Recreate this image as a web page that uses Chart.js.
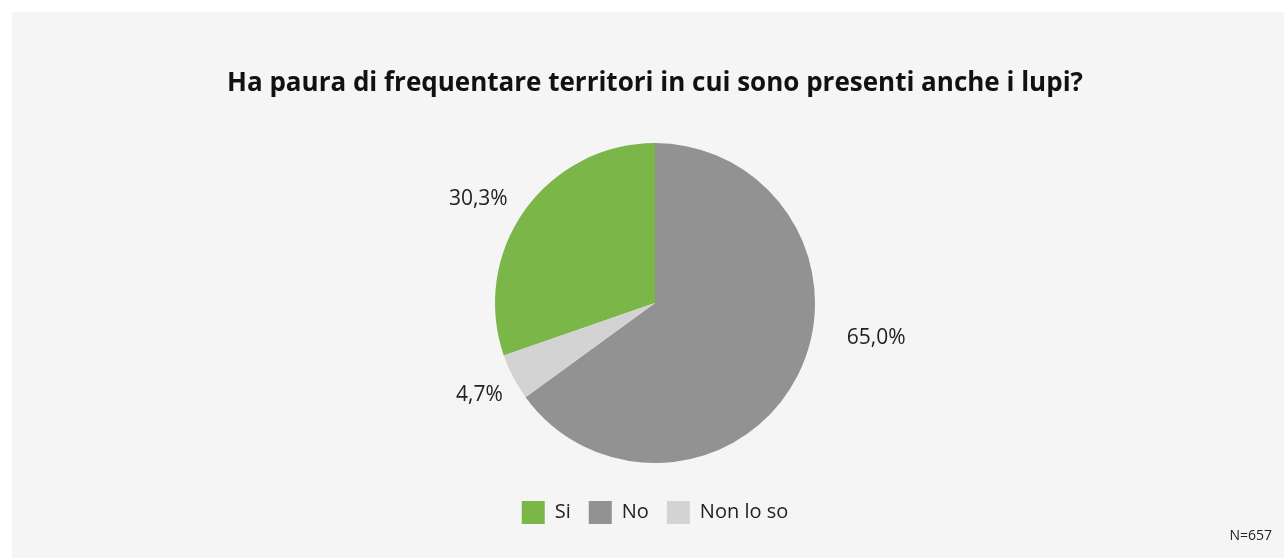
<!DOCTYPE html>
<html>
<head>
<meta charset="utf-8">
<script src="https://cdn.jsdelivr.net/npm/chart.js@4.4.1/dist/chart.umd.min.js"></script>
<style>
  html, body { margin: 0; padding: 0; background: #ffffff; }
  #panel {
    position: absolute; left: 12px; top: 12px;
    width: 1272px; height: 546px; background: #f5f5f5;
  }
</style>
</head>
<body>
<div id="panel"><canvas id="chart" width="1272" height="546"></canvas></div>
<script>
  // data
  const categories = ["Si", "No", "Non lo so"];
  const percentages = [30.3, 65.0, 4.7];
  const colors = ["#7ab648", "#929292", "#d3d3d3"];
  const titleText = "Ha paura di frequentare territori in cui sono presenti anche i lupi?";
  const noteText = "N=657";

  // Si starts where "Non lo so" ends, so "No" begins at 12 o'clock
  const startRotation = (percentages[1] + percentages[2]) / 100 * 360;

  const fmt = v => v.toFixed(1).replace(".", ",") + "%";

  // outside labels: angle shift (deg) and distance beyond the rim
  const labelPlacement = [
    { shift: -5, gap: 45 },
    { shift: -18, gap: 64 },
    { shift: 0, gap: 38 }
  ];

  const pieLabels = {
    id: "pieLabels",
    afterDatasetsDraw(chart) {
      const ctx = chart.ctx;
      const meta = chart.getDatasetMeta(0);
      ctx.save();
      ctx.font = "21px 'Open Sans'";
      ctx.fillStyle = "#222222";
      ctx.textAlign = "center";
      ctx.textBaseline = "middle";
      meta.data.forEach((arc, i) => {
        const p = arc.getProps(["x", "y", "startAngle", "endAngle", "outerRadius"], true);
        const mid = (p.startAngle + p.endAngle) / 2 + labelPlacement[i].shift * Math.PI / 180;
        const r = p.outerRadius + labelPlacement[i].gap;
        ctx.fillText(fmt(percentages[i]), p.x + Math.cos(mid) * r, p.y + Math.sin(mid) * r);
      });
      ctx.font = "14px 'Open Sans'";
      ctx.textAlign = "right";
      ctx.fillText(noteText, chart.width - 12, chart.height - 22);
      ctx.restore();
    }
  };

  new Chart(document.getElementById("chart"), {
    type: "pie",
    data: {
      labels: categories,
      datasets: [{
        data: percentages,
        backgroundColor: colors,
        borderWidth: 0,
        radius: 160
      }]
    },
    options: {
      responsive: false,
      animation: false,
      rotation: startRotation,
      layout: { padding: { left: 14, top: 0, bottom: 24 } },
      plugins: {
        title: {
          display: true,
          text: titleText,
          color: "#111111",
          font: { family: "'Open Sans'", size: 26, weight: "bold" },
          padding: { top: 56, bottom: 24 }
        },
        legend: {
          position: "bottom",
          labels: {
            color: "#222222",
            font: { family: "'Open Sans'", size: 20 },
            boxWidth: 23,
            boxHeight: 23,
            padding: 18
          }
        },
        tooltip: { enabled: false }
      }
    },
    plugins: [pieLabels]
  });
</script>
</body>
</html>
